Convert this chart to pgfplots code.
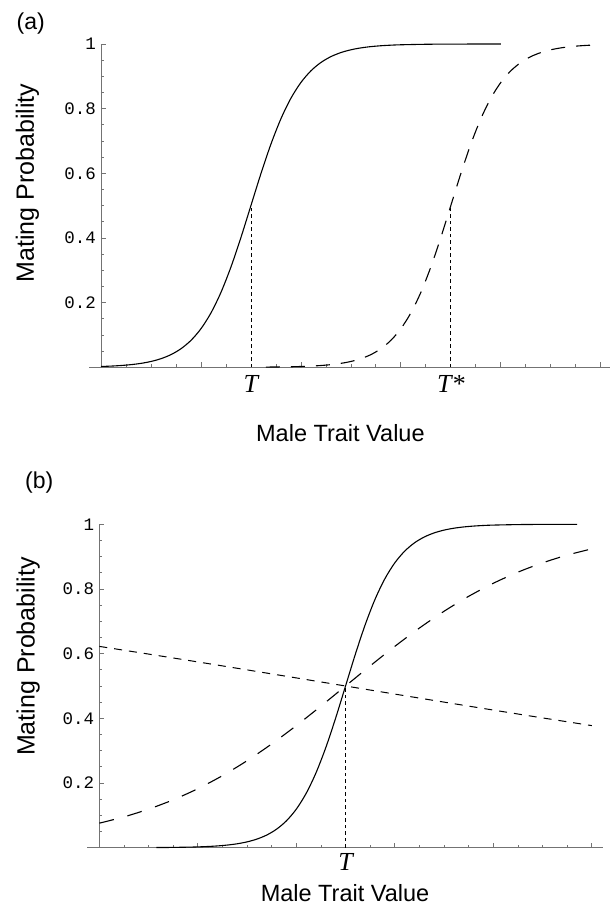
\documentclass[border=0pt]{standalone}
\usepackage{pgfplots}
\pgfplotsset{compat=1.18}
\usepackage{fontspec}
\setmainfont{Liberation Sans}
\newfontfamily\monofont{Liberation Mono}
\newfontfamily\serfont{Liberation Serif}
\newcommand\labfont{\fontsize{23.5bp}{28bp}\selectfont}
\newcommand\ylabfont{\fontsize{25bp}{30bp}\selectfont}
\newcommand\ticfont{\monofont\fontsize{17.5bp}{20bp}\selectfont}
\newcommand\tfont{\serfont\itshape\fontsize{26bp}{30bp}\selectfont}
\definecolor{axgray}{gray}{0.45}
\pgfplotsset{
  mystyle/.style={
    scale only axis,
    axis lines=middle,
    axis line style={-, draw=axgray, line width=0.9bp},
    ymin=0, ymax=1,
    xtick={1,2,3,4,5}, xticklabels={,,,,},
    minor xtick={0.25,0.5,...,5},
    ytick={0.2,0.4,0.6,0.8,1},
    yticklabels={0.2,0.4,0.6,0.8,1},
    minor ytick={0.05,0.1,...,1},
    tick align=inside,
    major tick length=5bp, minor tick length=3bp,
    tick style={draw=axgray, line width=0.7bp},
    yticklabel style={font=\ticfont, inner sep=0pt, anchor=east, xshift=-5bp},
    clip=false,
  },
  curve/.style={black, line width=1.1bp, smooth},
  vline/.style={black, line width=0.8bp, dash pattern=on 3.5bp off 3bp},
}
\begin{document}
\begin{tikzpicture}[x=1bp,y=1bp]
\useasboundingbox (0,0) rectangle (611,913);
% ---------------- panel (a)
\begin{axis}[mystyle,
  at={(89bp,545.7bp)}, anchor=south west,
  width=521bp, height=323.3bp,
  xmin=-0.12, xmax=5.093,
  extra x ticks={1.5,3.5},
  extra x tick labels={T,T*},
  extra x tick style={major tick length=0pt},
  xticklabel style={font=\tfont, inner sep=0pt, anchor=north, yshift=-7.5bp},
  xlabel={Male Trait Value}, ylabel={Mating Probability},
  every axis x label/.style={at={(axis description cs:0.4825,-0.203)}, anchor=center, font=\labfont},
  every axis y label/.style={at={(axis description cs:-0.118,0.570)}, anchor=center, rotate=90, font=\ylabfont},
]
\addplot[curve] coordinates {(0,0.002473)(0.1,0.003684)(0.2,0.005486)(0.3,0.008163)(0.4,0.012128)(0.5,0.017986)(0.6,0.026597)(0.7,0.039166)(0.8,0.057324)(0.9,0.083173)(1.0,0.119203)(1.1,0.167982)(1.2,0.231475)(1.3,0.310026)(1.4,0.401312)(1.5,0.5)(1.6,0.598688)(1.7,0.689974)(1.8,0.768525)(1.9,0.832018)(2.0,0.880797)(2.1,0.916827)(2.2,0.942676)(2.3,0.960834)(2.4,0.973403)(2.5,0.982014)(2.6,0.987872)(2.7,0.991837)(2.8,0.994514)(2.9,0.996316)(3.0,0.997527)(3.25,0.999089)(3.5,0.999665)(4.0,0.999955)};
\addplot[curve, dash pattern=on 14bp off 11bp] coordinates {(1.65,0.000611)(1.8,0.001112)(1.9,0.001659)(2.0,0.002473)(2.1,0.003684)(2.2,0.005486)(2.3,0.008163)(2.4,0.012128)(2.5,0.017986)(2.6,0.026597)(2.7,0.039166)(2.8,0.057324)(2.9,0.083173)(3.0,0.119203)(3.1,0.167982)(3.2,0.231475)(3.3,0.310026)(3.4,0.401312)(3.5,0.5)(3.6,0.598688)(3.7,0.689974)(3.8,0.768525)(3.9,0.832018)(4.0,0.880797)(4.1,0.916827)(4.2,0.942676)(4.3,0.960834)(4.4,0.973403)(4.5,0.982014)(4.6,0.987872)(4.7,0.991837)(4.8,0.994514)(4.9,0.996316)(5.0,0.997527)};
\addplot[vline] coordinates {(1.5,0)(1.5,0.5)};
\addplot[vline] coordinates {(3.5,0)(3.5,0.5)};
\end{axis}
% ---------------- panel (b)
\begin{axis}[mystyle,
  at={(87bp,65.3bp)}, anchor=south west,
  width=516bp, height=323.4bp,
  xmin=-0.125, xmax=5.114,
  extra x ticks={2.5},
  extra x tick labels={T},
  extra x tick style={major tick length=0pt},
  xticklabel style={font=\tfont, inner sep=0pt, anchor=north, yshift=-5.7bp},
  xlabel={Male Trait Value}, ylabel={Mating Probability},
  every axis x label/.style={at={(axis description cs:0.5,-0.140)}, anchor=center, font=\labfont},
  every axis y label/.style={at={(axis description cs:-0.114,0.591)}, anchor=center, rotate=90, font=\ylabfont},
]
\addplot[curve] coordinates {(0.58,0.000462)(0.7,0.000746)(0.9,0.001659)(1.0,0.002473)(1.1,0.003684)(1.2,0.005486)(1.3,0.008163)(1.4,0.012128)(1.5,0.017986)(1.6,0.026597)(1.7,0.039166)(1.8,0.057324)(1.9,0.083173)(2.0,0.119203)(2.1,0.167982)(2.2,0.231475)(2.3,0.310026)(2.4,0.401312)(2.5,0.5)(2.6,0.598688)(2.7,0.689974)(2.8,0.768525)(2.9,0.832018)(3.0,0.880797)(3.1,0.916827)(3.2,0.942676)(3.3,0.960834)(3.4,0.973403)(3.5,0.982014)(3.6,0.987872)(3.7,0.991837)(3.8,0.994514)(3.9,0.996316)(4.0,0.997527)(4.25,0.999089)(4.5,0.999665)(4.85,0.999917)};
\addplot[curve, dash pattern=on 15bp off 14bp] coordinates {(0,0.075858)(0.25,0.095349)(0.5,0.119203)(0.75,0.148047)(1.0,0.182426)(1.25,0.222700)(1.5,0.268941)(1.75,0.320821)(2.0,0.377541)(2.25,0.437823)(2.5,0.5)(2.75,0.562177)(3.0,0.622459)(3.25,0.679179)(3.5,0.731059)(3.75,0.777300)(4.0,0.817574)(4.25,0.851953)(4.5,0.880797)(4.75,0.904651)(5.0,0.924142)};
\addplot[curve, line width=1bp, dash pattern=on 8bp off 7bp] coordinates {(0,0.622459)(0.5,0.598688)(1.0,0.574443)(1.5,0.549834)(2.0,0.524979)(2.5,0.5)(3.0,0.475021)(3.5,0.450166)(4.0,0.425557)(4.5,0.401312)(5.0,0.377541)};
\addplot[vline] coordinates {(2.5,0)(2.5,0.5)};
\end{axis}
\node[font=\fontsize{23bp}{28bp}\selectfont] at (30.8,889) {(a)};
\node[font=\fontsize{23bp}{28bp}\selectfont] at (39.2,430.5) {(b)};
\end{tikzpicture}
\end{document}
